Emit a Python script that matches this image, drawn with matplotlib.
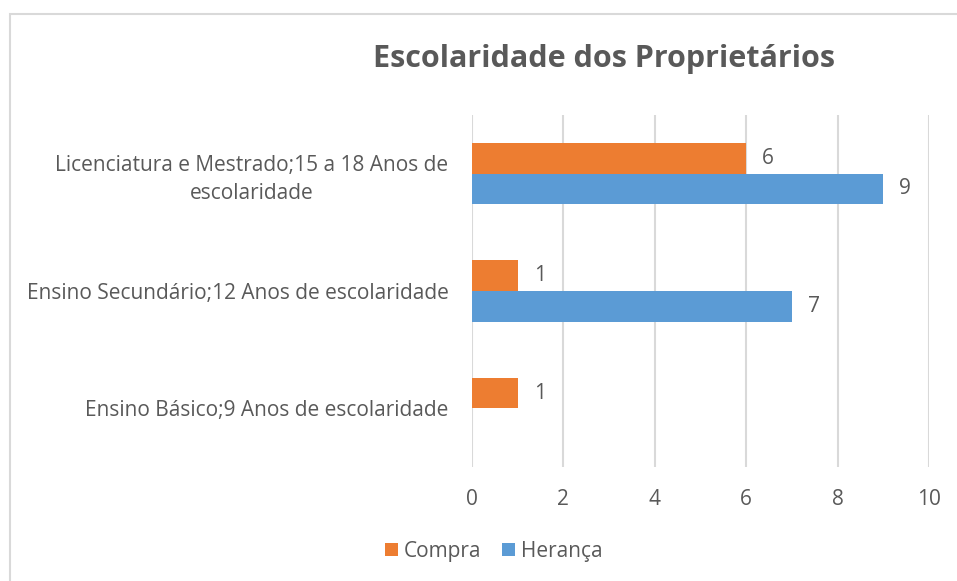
import matplotlib.pyplot as plt
from matplotlib.patches import Rectangle
import numpy as np

plt.rcParams['font.family'] = ['Open Sans', 'DejaVu Sans']

categories = [
    "Ensino Básico;9 Anos de escolaridade",
    "Ensino Secundário;12 Anos de escolaridade",
    "Licenciatura e Mestrado;15 a 18 Anos de\nescolaridade",
]
compra = [1, 1, 6]
heranca = [0, 7, 9]
x_ticks = [0, 2, 4, 6, 8, 10]

text_color = "#595959"
orange = "#ED7D31"
blue = "#5B9BD5"

fig = plt.figure(figsize=(9.57, 5.81), dpi=100)
ax = fig.add_axes([472 / 957, 1 - 467 / 581, 457 / 957, 352 / 581])

# chart frame (cut off at right and bottom like the source screenshot)
fig.patches.append(Rectangle((10 / 957, -0.1), 1.2, 1 - 14 / 581 + 0.1,
                             transform=fig.transFigure, fill=False,
                             edgecolor="#D9D9D9", linewidth=1.5))

y = np.arange(len(categories))
h = 0.26
b1 = ax.barh(y + h / 2, compra, height=h, color=orange, label="Compra")
b2 = ax.barh(y - h / 2, heranca, height=h, color=blue, label="Herança")

for bars, vals in ((b1, compra), (b2, heranca)):
    for bar, v in zip(bars, vals):
        if v == 0:
            continue
        ax.annotate(str(v), (v, bar.get_y() + bar.get_height() / 2),
                    xytext=(16, 0), textcoords="offset pixels",
                    ha="left", va="center", fontsize=15, color=text_color)

ax.set_xlim(0, 10)
ax.set_ylim(-0.5, 2.5)
ax.set_xticks(x_ticks)
ax.set_yticks(y)
ax.set_yticklabels(categories)
for lbl in ax.get_yticklabels():
    lbl.set_multialignment("center")
    lbl.set_linespacing(1.4)
ax.tick_params(axis="both", length=0, labelsize=15, labelcolor=text_color)
ax.tick_params(axis="x", pad=16)
ax.tick_params(axis="y", pad=17)
ax.grid(axis="x", color="#D9D9D9", linewidth=1.5)
ax.set_axisbelow(True)
for s in ax.spines.values():
    s.set_visible(False)

fig.text(604 / 957, 1 - 59 / 581, "Escolaridade dos Proprietários",
         ha="center", va="center", fontsize=22, fontweight="bold", color=text_color)

fig.legend(handles=[b1, b2], loc="center", bbox_to_anchor=(494 / 957, 1 - 551 / 581),
           ncol=2, frameon=False, fontsize=15, labelcolor=text_color,
           handlelength=0.6, handleheight=0.6, handletextpad=0.3, columnspacing=1.0)

fig.savefig("out.png", dpi=100)
